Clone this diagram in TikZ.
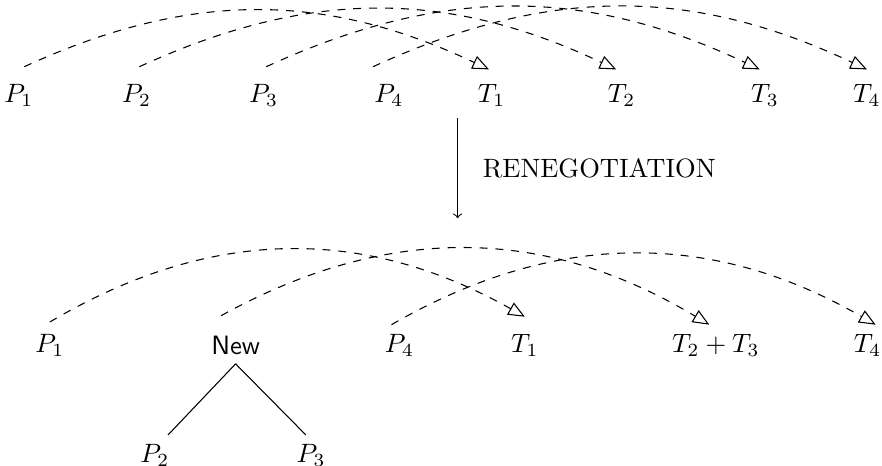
\documentclass[tikz,border=0pt]{standalone}
\usetikzlibrary{arrows,positioning}

\begin{document}
\begin{tikzpicture}[
  on grid,
  contract/.style={dashed,-open triangle 45},
  oldarc/.style={contract,bend left=25},
  newarc/.style={contract,bend left=30}
]
  \useasboundingbox (0,0) rectangle (11.68,-6.17);

  % before
  \node (P1) at (0.25,-1.26) {$P_1$};
  \node[right=1.56cm of P1] (P2) {$P_2$};
  \node[right=1.68cm of P2] (P3) {$P_3$};
  \node[right=1.66cm of P3] (P4) {$P_4$};
  \node[right=1.36cm of P4] (T1) {$T_1$};
  \node[right=1.72cm of T1] (T2) {$T_2$};
  \node[right=1.90cm of T2] (T3) {$T_3$};
  \node[right=1.35cm of T3] (T4) {$T_4$};

  \draw[oldarc] ([xshift=2pt,yshift=3pt]P1.north) to ([xshift=-1pt,yshift=2pt]T1.north);
  \draw[oldarc] ([xshift=1pt,yshift=3pt]P2.north) to ([xshift=-2pt,yshift=2pt]T2.north);
  \draw[oldarc] ([xshift=1pt,yshift=3pt]P3.north) to ([xshift=-2pt,yshift=2pt]T3.north);
  \draw[oldarc] ([xshift=-6pt,yshift=3pt]P4.north) to ([yshift=2pt]T4.north);

  \coordinate (A) at (6.06,-1.56);
  \coordinate (B) at (6.06,-2.89);
  \draw[->] (A) -- node[right=6pt] {RENEGOTIATION} (B);

  % after
  \node (P1n) at (0.66,-4.57) {$P_1$};
  \node[right=2.46cm of P1n] (New) {\textsf{New}};
  \node[right=2.17cm of New] (P4n) {$P_4$};
  \node[right=1.66cm of P4n] (T1n) {$T_1$};
  \node[right=2.53cm of T1n] (T23) {$T_2+T_3$};
  \node[right=2.01cm of T23] (T4n) {$T_4$};
  \node[below left=1.46cm and 1.07cm of New] (P2n) {$P_2$};
  \node[below right=1.46cm and 1.00cm of New] (P3n) {$P_3$};

  \draw[newarc] ([yshift=1pt]P1n.north) to ([yshift=3pt]T1n.north);
  \draw[newarc] ([xshift=-5.5pt,yshift=4pt]New.north) to ([xshift=-2.5pt]T23.north);
  \draw[newarc] ([xshift=-3pt]P4n.north) to ([xshift=3pt]T4n.north);

  \draw (New.south) -- ([xshift=5pt]P2n.north);
  \draw (New.south) -- ([xshift=-2pt]P3n.north);
\end{tikzpicture}
\end{document}
